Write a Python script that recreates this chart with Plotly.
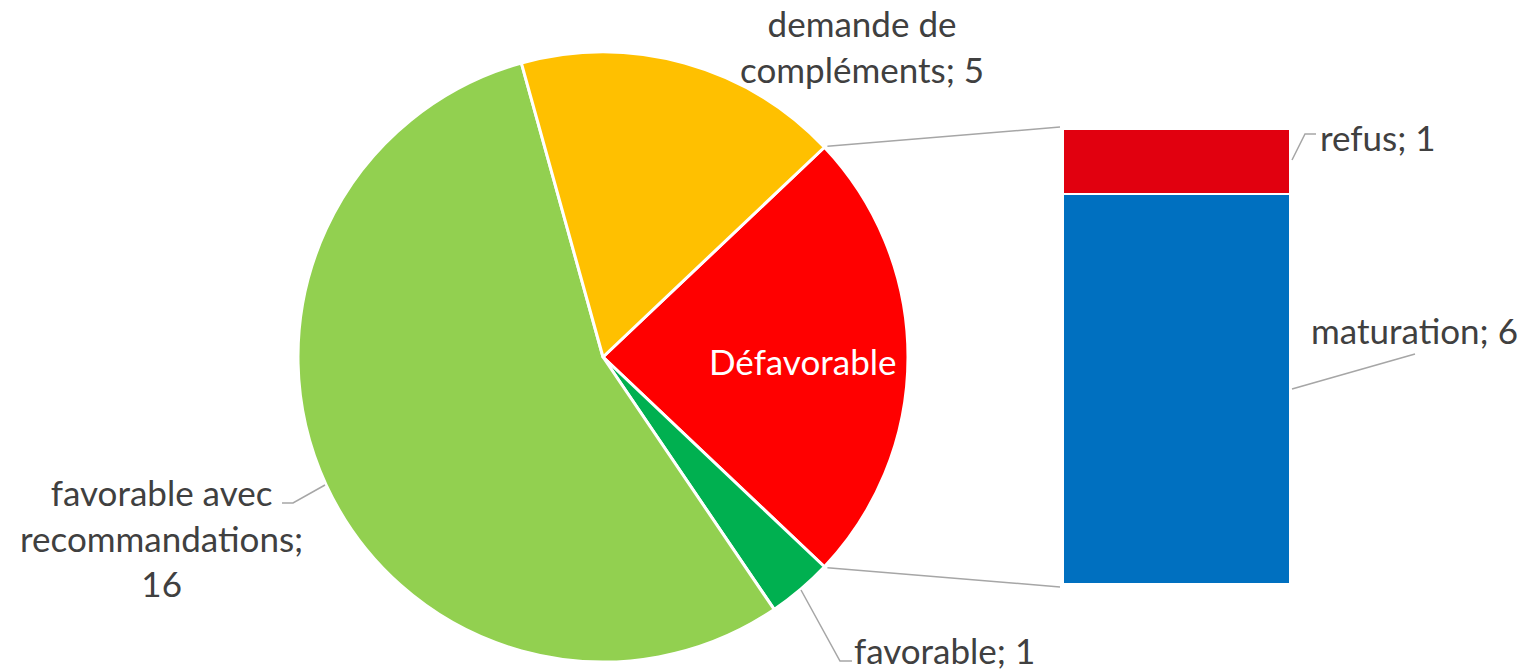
import math
import plotly.graph_objects as go

W, H = 1526, 672

# ---- data ----
pie_labels = ["Défavorable", "favorable", "favorable avec recommandations", "demande de compléments"]
pie_values = [7, 1, 16, 5]
pie_colors = ["#FF0000", "#00B050", "#92D050", "#FFC000"]

bar_labels = ["maturation", "refus"]
bar_values = [6, 1]
bar_colors = ["#0070C0", "#E1000F"]

FONT = "Lato"
FS = 35
TXT = "#404040"
LINE = "#A6A6A6"

# ---- geometry (pixels) ----
cx, cy, r = 603, 357, 305
bar_x0, bar_x1 = 1063, 1290
bar_top, bar_bot = 129, 584


def px(x):
    return x / W


def py(y):
    return 1 - y / H


total = sum(pie_values)
half = pie_values[0] / total * 180.0
rotation = 90 - half

fig = go.Figure()
fig.add_trace(go.Pie(
    labels=pie_labels, values=pie_values, sort=False, direction="clockwise",
    rotation=rotation, marker=dict(colors=pie_colors, line=dict(color="white", width=3)),
    textinfo="none", hoverinfo="label+value", showlegend=False,
    domain=dict(x=[px(cx - r), px(cx + r)], y=[py(cy + r), py(cy - r)]),
))

for lab, val, col in zip(bar_labels, bar_values, bar_colors):
    fig.add_trace(go.Bar(
        x=[0], y=[val], name=lab, width=1, marker=dict(color=col, line=dict(color="white", width=2)),
        showlegend=False, hoverinfo="name+y",
    ))

fig.update_layout(
    width=W, height=H, margin=dict(l=0, r=0, t=0, b=0),
    paper_bgcolor="white", plot_bgcolor="rgba(0,0,0,0)",
    barmode="stack", bargap=0,
    xaxis=dict(domain=[px(bar_x0), px(bar_x1)], range=[-0.5, 0.5], visible=False, fixedrange=True),
    yaxis=dict(domain=[py(bar_bot), py(bar_top)], range=[0, sum(bar_values)], visible=False, fixedrange=True),
    font=dict(family=FONT, size=FS, color=TXT),
)

# connector lines pie -> bar
a = math.radians(half)
p_top = (cx + r * math.cos(a) + 3, cy - r * math.sin(a) - 1)
p_bot = (cx + r * math.cos(a) + 3, cy + r * math.sin(a) + 1)
shapes = [
    dict(type="line", xref="paper", yref="paper", x0=px(p_top[0]), y0=py(p_top[1]),
         x1=px(bar_x0 - 3), y1=py(bar_top - 2), line=dict(color=LINE, width=1.5)),
    dict(type="line", xref="paper", yref="paper", x0=px(p_bot[0]), y0=py(p_bot[1]),
         x1=px(bar_x0 - 3), y1=py(bar_bot + 3), line=dict(color=LINE, width=1.5)),
]


def leader(pts):
    d = "M " + " L ".join(f"{px(x):.5f},{py(y):.5f}" for x, y in pts)
    return dict(type="path", xref="paper", yref="paper", path=d, line=dict(color=LINE, width=1.5))


shapes += [
    leader([(801, 590), (840, 661), (852, 661)]),
    leader([(325, 485), (293, 503), (282, 503)]),
    leader([(1292, 160), (1305, 134), (1316, 134)]),
    leader([(1292, 389), (1415, 354)]),
]
fig.update_layout(shapes=shapes)

ann = []


def add(text, x, y, color=TXT):
    ann.append(dict(text=text, x=px(x), y=py(y), xref="paper", yref="paper", showarrow=False,
                    xanchor="center", yanchor="middle", align="center",
                    font=dict(family=FONT, size=FS, color=color)))


add(f"demande de<br>compléments; {pie_values[3]}", 862, 46)
add(pie_labels[0], 802, 361, "white")
add(f"{pie_labels[1]}; {pie_values[1]}", 945, 650)
add(f"favorable avec<br>recommandations;<br>{pie_values[2]}", 161, 537)
add(f"{bar_labels[1]}; {bar_values[1]}", 1378, 137)
add(f"{bar_labels[0]}; {bar_values[0]}", 1414, 330)
fig.update_layout(annotations=ann)

fig.write_html("out.html")
